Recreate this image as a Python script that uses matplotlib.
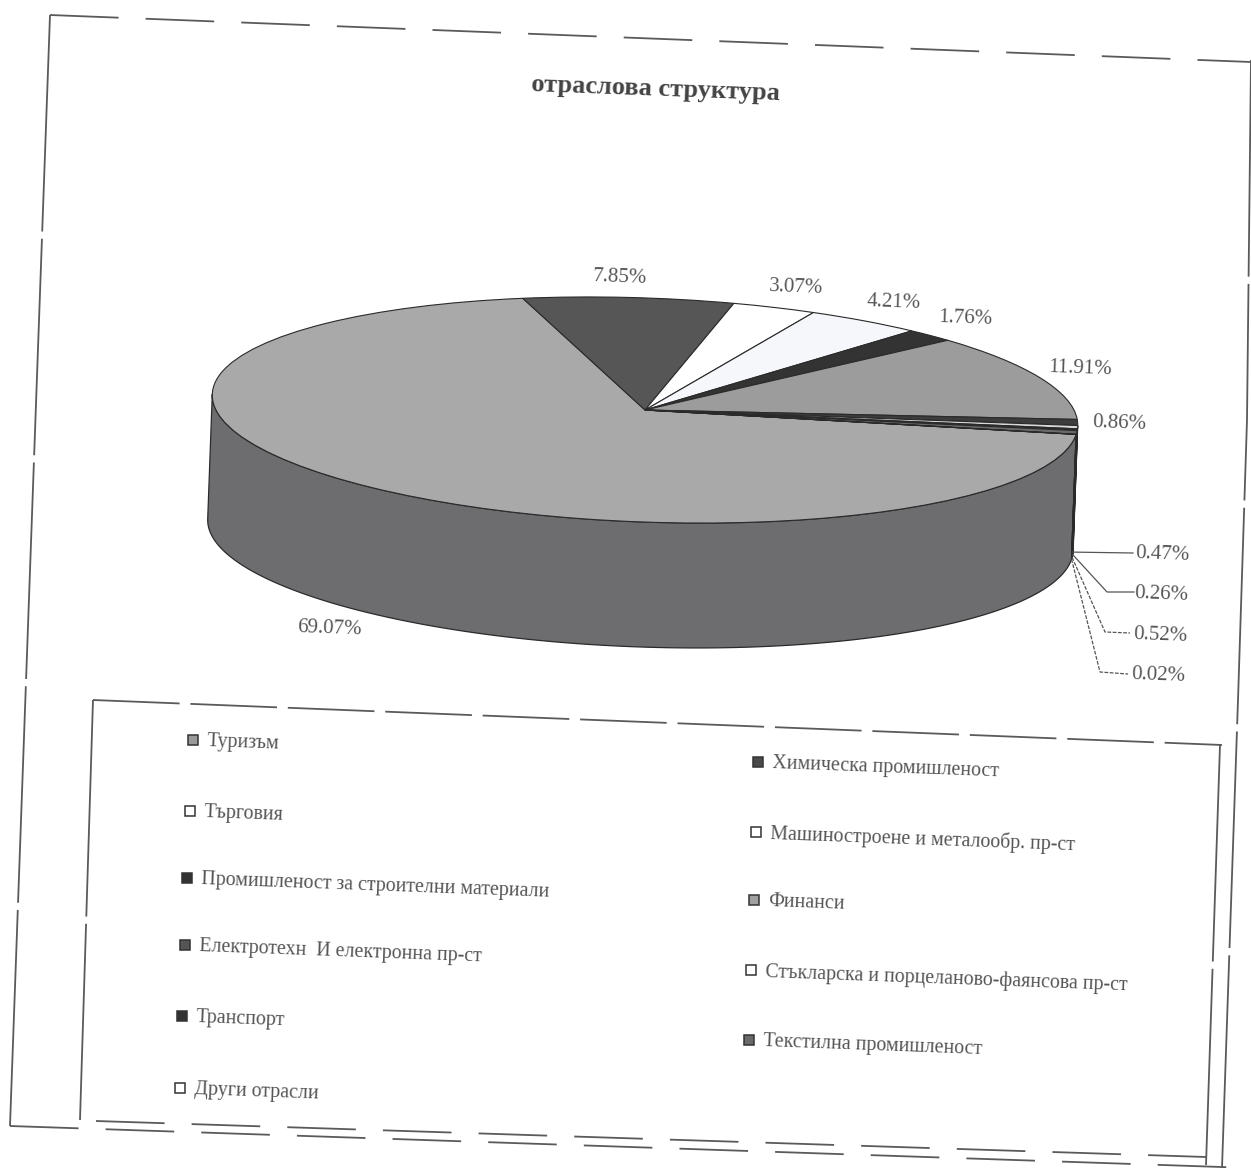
import numpy as np
import matplotlib
matplotlib.use("Agg")
import matplotlib.pyplot as plt
from matplotlib.transforms import Affine2D

plt.rcParams['font.family'] = ['Liberation Serif', 'DejaVu Serif']

title = "отраслова структура"
sectors = ["Туризъм", "Химическа промишленост", "Търговия",
           "Машиностроене и металообр. пр-ст", "Промишленост за строителни материали",
           "Финанси", "Електротехн  И електронна пр-ст",
           "Стъкларска и порцеланово-фаянсова пр-ст", "Транспорт",
           "Текстилна промишленост", "Други отрасли"]
shares = [69.07, 7.85, 3.07, 4.21, 1.76, 11.91, 0.86, 0.47, 0.26, 0.52, 0.02]
top_colors = ["#a9a9a9", "#565656", "#ffffff", "#f5f7fb", "#333333", "#9c9c9c",
              "#3c3c3c", "#d8d8d8", "#2e2e2e", "#6a6a6a", "#ffffff"]
side_colors = ["#6d6d70", "#3a3a3a", "#dddddd", "#d5d5d5", "#222222", "#666666",
               "#2a2a2a", "#777777", "#555555", "#4a4a4a", "#777777"]
legend_colors = ["#9a9a9a", "#4a4a4a", "#ffffff", "#ffffff", "#333333", "#a0a0a0",
                 "#555555", "#ffffff", "#333333", "#6a6a6a", "#ffffff"]

TILT = 2.1
INK = "#555555"
CX, CY, RX, RY, DEPTH = 645, 410, 433, 112, 125
START = 355.6

fig = plt.figure(figsize=(12.51, 11.68), dpi=100, facecolor="white")
ax = fig.add_axes([0, 0, 1, 1])

wedges, _ = ax.pie(shares, colors=top_colors, startangle=START, counterclock=False,
                   wedgeprops=dict(edgecolor="#2a2a2a", linewidth=0.8), normalize=True)
ax.set_aspect("auto")
ax.set_xlim(0, 1251)
ax.set_ylim(1168, 0)
ax.axis("off")

disc = Affine2D().scale(RX, -RY).rotate_deg(TILT).translate(CX, CY) + ax.transData
for w in wedges:
    w.set_transform(disc)
    w.set_zorder(3)

# Cumulative boundaries of the slices, running clockwise from the start angle
edges = START - 3.6 * np.concatenate([[0], np.cumsum(shares)])
drop = DEPTH / RY


def side_wall(a0, a1, color):
    # a0 > a1: visible rim runs only across the lower half of the ellipse
    lo, hi = max(a1, 180), min(a0, 360)
    if hi <= lo:
        return
    t = np.radians(np.linspace(lo, hi, 120))
    xs = np.r_[np.cos(t), np.cos(t)[::-1]]
    ys = np.r_[np.sin(t), np.sin(t)[::-1] - drop]
    ax.fill(xs, ys, facecolor=color, edgecolor="#2a2a2a", linewidth=0.9,
            transform=disc, zorder=2)


for i, col in enumerate(side_colors):
    side_wall(edges[i], edges[i + 1], col)
    side_wall(edges[i] + 360, edges[i + 1] + 360, col)


def label(x, y, s, size, ha="center", color=INK, **kw):
    ax.text(x, y, s, fontsize=size, ha=ha, va="center", color=color,
            rotation=-TILT, rotation_mode="anchor", zorder=6, **kw)


label(656, 89, title, 19, fontweight="bold", color="#444444")

# Percentage labels
pct = [f"{v:.2f}%" for v in shares]
label_pos = [(329, 629), (620, 277), (796, 287), (894, 302), (965, 318), (1080, 369),
             (1119, 423), (1162, 554), (1161, 594), (1160, 635), (1158, 675)]
for (x, y), s in zip(label_pos, pct):
    label(x, y, s, 15)

# Elbow leaders for the four smallest slices, starting on the lower rim
mids = (edges[:-1] + edges[1:]) / 2
elbows = {7: [(1133, 553)], 8: [(1107, 592), (1134, 592)],
          9: [(1105, 632), (1130, 633)], 10: [(1100, 672), (1128, 674)]}
line_styles = {7: "-", 8: "-", 9: (0, (3, 1.2)), 10: (0, (3, 1.2))}
for i, pts in elbows.items():
    th = np.radians(mids[i])
    x0, y0 = disc.transform((np.cos(th), np.sin(th) - drop))
    x0, y0 = ax.transData.inverted().transform((x0, y0))
    xs = [x0] + [p[0] for p in pts]
    ys = [y0] + [p[1] for p in pts]
    ax.plot(xs, ys, color="#555555", lw=0.9, ls=line_styles[i], zorder=5)

# Two-column legend
legend_pos = [(193, 740), (758, 762), (190, 811), (756, 832), (187, 878), (754, 900),
              (185, 945), (751, 970), (182, 1016), (749, 1040), (180, 1088)]
for (x, y), name, col in zip(legend_pos, sectors, legend_colors):
    ax.plot([x], [y], marker="s", ms=7.5, mfc=col, mec="#333333", mew=1.1, ls="none", zorder=6)
    label(x + 14, y + 2, name, 14.3, ha="left")

# Page and legend frames, broken where the copy lost toner
wide = (0, (38, 15))
narrow = (0, (48, 6))
solid_ish = (0, (120, 4))
frames = [
    ([50, 10], [15, 1126], solid_ish),
    ([50, 1251], [15, 62], wide),
    ([1251, 1247, 1238, 1222], [60, 420, 700, 1168], solid_ish),
    ([10, 1251], [1126, 1168], wide),
    ([93, 1222], [700, 745], narrow),
    ([93, 80], [700, 1120], solid_ish),
    ([1220, 1206], [745, 1165], solid_ish),
    ([96, 1206], [1121, 1157], wide),
]
for xs, ys, dash in frames:
    ax.plot(xs, ys, color="#5a5a5a", lw=1.3, ls=dash, zorder=1)

fig.savefig("out.png", dpi=100, facecolor="white")
